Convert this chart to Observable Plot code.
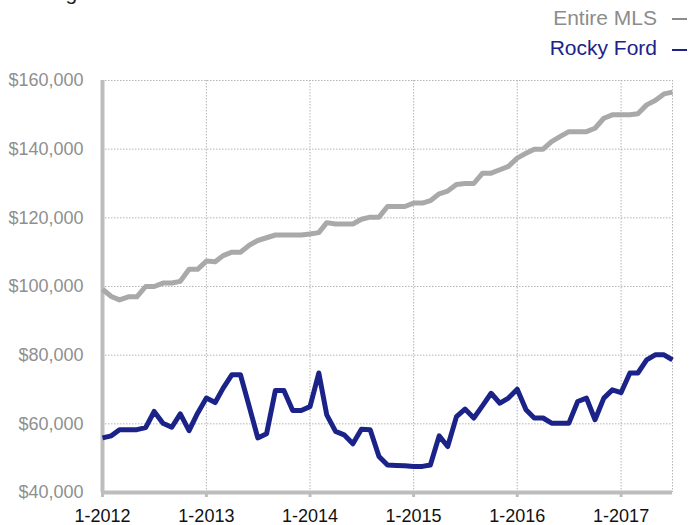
<!DOCTYPE html>
<html>
<head>
<meta charset="utf-8">
<script src="https://cdn.jsdelivr.net/npm/d3@7"></script>
<script src="https://cdn.jsdelivr.net/npm/@observablehq/plot@0.6"></script>
<style>
  body { margin: 0; background: #fff; font-family: "Liberation Sans", Arial, sans-serif; }
  #wrap { position: relative; width: 689px; height: 525px; overflow: hidden; }
  .title { position: absolute; left: 13px; top: -18px; font-size: 21px; line-height: 21px; color: #222; white-space: nowrap; }
  .leg { position: absolute; right: 32px; font-size: 21px; line-height: 21px; white-space: nowrap; }
  .dash { position: absolute; left: 672px; width: 15px; height: 2px; }
  svg { position: absolute; left: 0; top: 0; }
</style>
</head>
<body>
<div id="wrap">
  <div id="chart"></div>
  <div class="title">Rolling 12-Month Calculation</div>
  <div class="leg" style="top:7px;color:#8c8c8c">Entire MLS</div>
  <div class="dash" style="top:18px;background:#8c8c8c"></div>
  <div class="leg" style="top:37px;color:#1b2389">Rocky Ford</div>
  <div class="dash" style="top:49px;background:#1b2389"></div>
</div>
<script>
// Monthly values, January 2012 through July 2017
const startYear = 2012;
const seriesNames = ["Entire MLS", "Rocky Ford"];
const entireMLS = [
  99200, 97100, 96100, 97000, 97000, 100000, 100000, 101000, 101000, 101500, 105000, 105000,
  107400, 107200, 109000, 110000, 110000, 112000, 113400, 114200, 115000, 115000, 115000, 115000,
  115300, 115700, 118600, 118200, 118200, 118200, 119600, 120200, 120200, 123300, 123300, 123300,
  124300, 124300, 125000, 127000, 127800, 129700, 130000, 130000, 133000, 133000, 134000, 135000,
  137400, 138800, 140000, 140000, 142200, 143700, 145100, 145100, 145100, 146100, 149000, 150000,
  150000, 150000, 150300, 152900, 154200, 156100, 156600
];
const rockyFord = [
  55900, 56500, 58300, 58300, 58300, 58900, 63600, 60200, 59000, 62900, 58000, 63100,
  67500, 66200, 70400, 74300, 74300, 65000, 55900, 57100, 69700, 69700, 63900, 63900,
  65000, 74800, 62600, 57800, 56800, 54200, 58400, 58300, 50500, 48000, 47900, 47800,
  47600, 47600, 48000, 56500, 53400, 62100, 64300, 61700, 65300, 68900, 66000, 67500,
  70100, 64100, 61700, 61700, 60200, 60200, 60200, 66500, 67500, 61200, 67500, 69900,
  69100, 74800, 74800, 78600, 80100, 80100, 78600
];
const yTicks = [40000, 60000, 80000, 100000, 120000, 140000, 160000];
const xTickYears = [2012, 2013, 2014, 2015, 2016, 2017];
const colors = ["#a9a9a9", "#1b2389"];

const monthDate = i => new Date(startYear, i, 1);
const rows = [];
[entireMLS, rockyFord].forEach((arr, s) =>
  arr.forEach((v, i) => rows.push({series: seriesNames[s], date: monthDate(i), value: v}))
);
const xTicks = xTickYears.map(y => new Date(y, 0, 1));
const xDomain = [monthDate(0), monthDate(entireMLS.length - 1)];

const chart = Plot.plot({
  width: 689,
  height: 525,
  marginTop: 80,
  marginBottom: 33,
  marginLeft: 102,
  marginRight: 17,
  style: {fontFamily: "'Liberation Sans', Arial, sans-serif", fontSize: "18px", background: "transparent"},
  x: {type: "time", domain: xDomain},
  y: {domain: [40000, 160000]},
  color: {domain: seriesNames, range: colors},
  marks: [
    Plot.gridY(yTicks, {stroke: "#b5b5b5", strokeOpacity: 1, strokeDasharray: "1.5,1.5", strokeWidth: 1}),
    Plot.gridX(xTicks, {stroke: "#b5b5b5", strokeOpacity: 1, strokeDasharray: "1.5,1.5", strokeWidth: 1}),
    Plot.ruleX([xDomain[1]], {stroke: "#b5b5b5", strokeDasharray: "1.5,1.5", strokeWidth: 1}),
    Plot.axisY(yTicks, {tickFormat: d => "$" + d3.format(",")(d), tickSize: 0, tickPadding: 19, fill: "#8f8f8f", fontSize: 18, label: null}),
    Plot.axisX(xTicks, {tickFormat: d => "1-" + d.getFullYear(), tickSize: 5, tickPadding: 12, stroke: "#bdbdbd", strokeWidth: 3, fill: "#111", fontSize: 18, label: null}),
    Plot.ruleX([xDomain[0]], {stroke: "#bdbdbd", strokeWidth: 4}),
    Plot.ruleY([40000], {stroke: "#bdbdbd", strokeWidth: 4}),
    Plot.line(rows, {x: "date", y: "value", z: "series", stroke: "series", strokeWidth: 5, strokeLinejoin: "round", strokeLinecap: "butt"})
  ]
});
document.getElementById("chart").appendChild(chart);
</script>
</body>
</html>
